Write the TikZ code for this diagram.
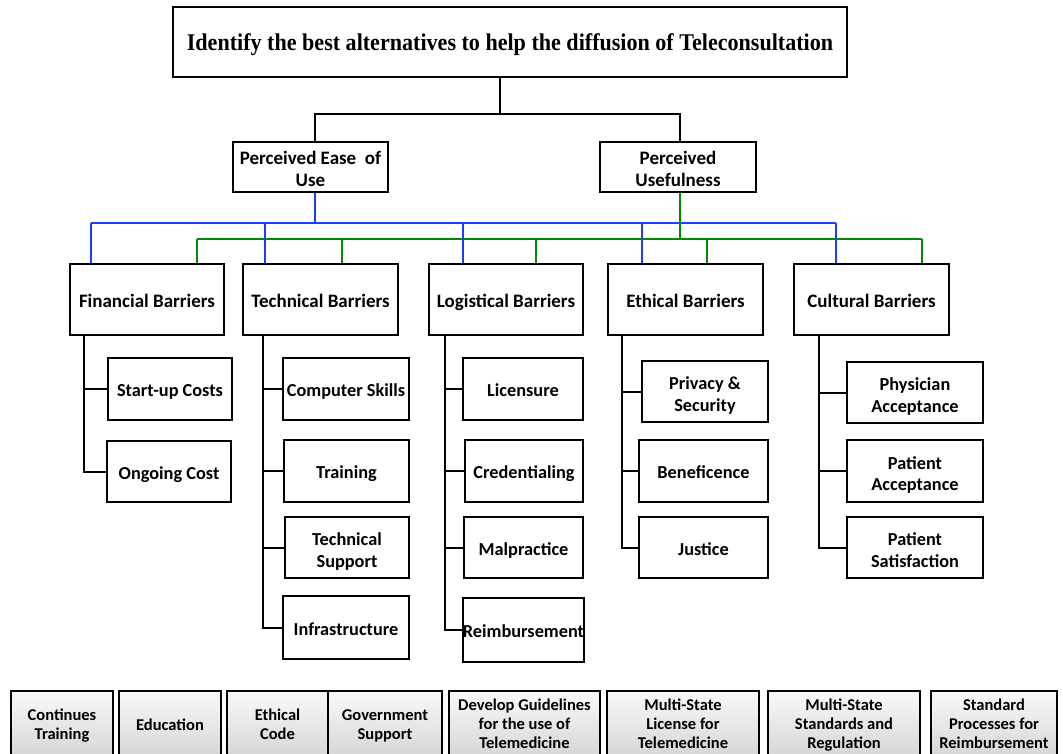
\documentclass[tikz,border=0pt]{standalone}
\usepackage{fontspec}
\setmainfont{Carlito}
\newfontfamily\titlefont{Liberation Serif}
\definecolor{busblue}{RGB}{30,62,255}
\definecolor{busgreen}{RGB}{0,140,0}

\begin{document}
\begin{tikzpicture}[x=1pt,y=-1pt,
  corners/.style n args={4}{minimum width={(#3-#1)*1pt}, minimum height={(#4-#2)*1pt},
    at={({(#1+#3)/2},{(#2+#4)/2})}},
  % fixed label height and depth keep every label centred alike
  evenlines/.style n args={2}{execute at begin node={\rule{0pt}{#1}},
    execute at end node={\rule[-#2]{0pt}{#2}}},
  box/.style={draw=black, line width=2.2pt, fill=white, align=center, inner sep=0pt,
    font=\fontsize{18.3}{21.5}\selectfont\bfseries, evenlines={20.5pt}{5pt}},
  boxtwo/.style={box, evenlines={44pt}{5pt}},
  bigbox/.style={box, font=\fontsize{19}{22}\selectfont\bfseries},
  bigboxtwo/.style={bigbox, evenlines={44.5pt}{5pt}},
  titlebox/.style={box, font=\titlefont\fontsize{24}{26}\selectfont\bfseries,
    evenlines={23.5pt}{6pt}},
  optbox/.style={draw=black, line width=2pt, top color=gray!5, bottom color=gray!32,
    align=center, inner sep=0pt, font=\fontsize{16.5}{19}\selectfont\bfseries,
    evenlines={19pt}{4.5pt}},
  opttwo/.style={optbox, evenlines={35.5pt}{4.5pt}},
  optthree/.style={optbox, evenlines={54.5pt}{4.5pt}},
  conn/.style={line width=2pt, black},
  blueline/.style={line width=2.4pt, busblue},
  greenline/.style={line width=2.4pt, busgreen}]

\useasboundingbox (0,0) rectangle (1063,753);
\clip (0,0) rectangle (1063,753);

% goal and the two perception criteria
\node[titlebox, corners={173}{7}{847}{77}] (top)
  {\scalebox{0.92}[1]{Identify the best alternatives to help the diffusion of Teleconsultation}};
\node[bigboxtwo, corners={233}{142}{388}{192}] (peou) {Perceived Ease\ \ of\\Use};
\node[bigboxtwo, corners={600}{142}{756}{192}] (pu) {Perceived\\Usefulness};

% barrier categories
\node[bigbox, corners={70}{264}{224}{335}]  (fin) {Financial Barriers};
\node[bigbox, corners={243}{264}{398}{335}] (tec) {Technical Barriers};
\node[bigbox, corners={429}{264}{583}{335}] (log) {Logistical Barriers};
\node[bigbox, corners={608}{264}{763}{335}] (eth) {Ethical Barriers};
\node[bigbox, corners={794}{264}{949}{335}] (cul) {Cultural Barriers};

% individual barriers
\node[box, corners={108}{358}{232}{420}] (su)   {Start-up Costs};
\node[box, corners={107}{441}{231}{502}] (og)   {Ongoing Cost};

\node[box, corners={283}{358}{409}{420}] (cs)   {Computer Skills};
\node[box, corners={284}{440}{409}{502}] (tr)   {Training};
\node[boxtwo, corners={285}{517}{409}{578}] (ts) {Technical\\Support};
\node[box, corners={283}{596}{409}{659}] (inf)  {Infrastructure};

\node[box, corners={463}{358}{583}{420}] (lic)  {Licensure};
\node[box, corners={465}{440}{583}{502}] (cred) {Credentialing};
\node[box, corners={464}{517}{583}{578}] (mal)  {Malpractice};
\node[box, corners={464}{598}{583}{662}] (reim) {Reimbursement};

\node[boxtwo, corners={642}{361}{768}{422}] (priv) {Privacy \&\\Security};
\node[box, corners={639}{440}{768}{502}] (ben)  {Beneficence};
\node[box, corners={639}{517}{768}{578}] (jus)  {Justice};

\node[boxtwo, corners={847}{362}{983}{423}] (phy)  {Physician\\Acceptance};
\node[boxtwo, corners={847}{440}{983}{502}] (pacc) {Patient\\Acceptance};
\node[boxtwo, corners={847}{517}{983}{578}] (psat) {Patient\\Satisfaction};

% alternatives along the bottom
\node[opttwo, corners={11}{691}{113}{756}]     (a1) {Continues\\Training};
\node[optbox, corners={119}{691}{221}{756}]    (a2) {Education};
\node[opttwo, corners={227}{691}{328}{756}]    (a3) {Ethical\\Code};
\node[opttwo, corners={328}{691}{442}{756}]    (a4) {Government\\Support};
\node[optthree, corners={449}{691}{600}{756}]  (a5) {Develop Guidelines\\for the use of\\Telemedicine};
\node[optthree, corners={607}{691}{759}{756}]  (a6) {Multi-State\\License for\\Telemedicine};
\node[optthree, corners={768}{691}{920}{756}]  (a7) {Multi-State\\Standards and\\Regulation};
\node[optthree, corners={931}{691}{1057}{756}] (a8) {Standard\\Processes for\\Reimbursement};

% goal to criteria
\coordinate (t1) at (500,114);
\coordinate (jL) at (315,114);
\coordinate (jR) at (680,114);
\draw[conn] (top.south -| t1) -- (t1);
\draw[conn] (peou.north -| jL) -- (jL) -- (jR) -- (pu.north -| jR);

% criteria buses to the barrier categories
\coordinate (bL) at (91,223);
\coordinate (bR) at (836,223);
\coordinate (gL) at (197,239);
\coordinate (gR) at (922,239);
\draw[blueline] (bL) -- (bR);
\draw[greenline] (pu.south -| jR) -- (jR |- gL);
\draw[greenline] (gL) -- (gR);
\foreach \x/\n in {197/fin,342/tec,536/log,707/eth,922/cul}
  \draw[greenline] (\x,239) -- (\n.north -| \x,0);
\foreach \x/\n in {91/fin,265/tec,463/log,642/eth,836/cul}
  \draw[blueline] (\x,223) -- (\n.north -| \x,0);
\draw[blueline] (peou.south -| jL) -- (jL |- bL);

% category trunks to individual barriers
\foreach \c in {su,og}        \draw[conn] (fin.south -| 84,0)  |- (\c.west);
\foreach \c in {cs,tr,ts,inf} \draw[conn] (tec.south -| 263,0) |- (\c.west);
\foreach \c in {lic,cred,mal,reim} \draw[conn] (log.south -| 445,0) |- (\c.west);
\foreach \c in {priv,ben,jus} \draw[conn] (eth.south -| 622,0) |- (\c.west);
\foreach \c in {phy,pacc,psat} \draw[conn] (cul.south -| 819,0) |- (\c.west);
\end{tikzpicture}
\end{document}
